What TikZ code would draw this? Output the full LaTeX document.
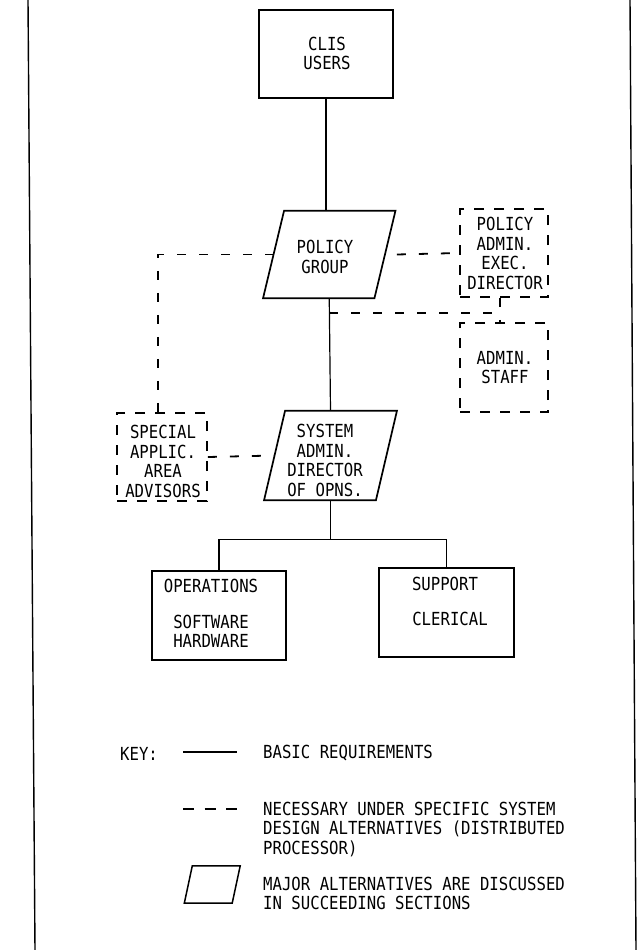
\documentclass[tikz,border=0pt]{standalone}
\usepackage{fontspec}
\newfontfamily\tw[FakeStretch=0.87]{DejaVu Sans Mono}
\begin{document}
\begin{tikzpicture}[x=1pt,y=-1pt,
  sbox/.style={draw, line width=1.7pt, inner sep=0pt},
  dbox/.style={sbox, line width=1.9pt, dash pattern=on 10pt off 10pt},
  pgcore/.style={rectangle, inner sep=0pt},
  pline/.style={line width=1.7pt, line join=miter},
  conn/.style={line width=1.2pt},
  dconn/.style={line width=1.8pt, dash pattern=on 9pt off 13pt},
  lbl/.style={font=\tw\fontsize{18}{19.5}\selectfont, align=center, inner sep=0pt}]
\useasboundingbox (0,0) rectangle (643,950);
% frame
\coordinate (fl1) at (28,0); \coordinate (fl2) at (35,950);
\coordinate (fr1) at (630,0); \coordinate (fr2) at (636,950);
\draw[line width=1.4pt] (fl1) -- (fl2);
\draw[line width=1.4pt] (fr1) -- (fr2);
% boxes
\node[sbox, minimum width=134, minimum height=88] (users) at (326,54) {};
\node[pgcore, minimum width=111, minimum height=87] (pg) at (329.25,254.5) {};
\draw[pline] ([xshift=10.5pt]pg.north west) -- ([xshift=10.5pt]pg.north east)
  -- ([xshift=-10.5pt]pg.south east) -- ([xshift=-10.5pt]pg.south west) -- cycle;
\node[dbox, minimum width=88, minimum height=88] (exec) at (504,253) {};
\node[dbox, minimum width=88, minimum height=89] (staff) at (504,367.5) {};
\node[dbox, minimum width=90, minimum height=88] (spec) at (162,457) {};
\node[pgcore, minimum width=111.5, minimum height=89] (sa) at (330.5,455.5) {};
\draw[pline] ([xshift=10.5pt]sa.north west) -- ([xshift=10.5pt]sa.north east)
  -- ([xshift=-10.5pt]sa.south east) -- ([xshift=-10.5pt]sa.south west) -- cycle;
\node[sbox, minimum width=134, minimum height=89] (ops) at (219,615.5) {};
\node[sbox, minimum width=135, minimum height=89] (sup) at (446.5,612.5) {};
% texts
\node[lbl] (tUsers) at (327,53.5) {CLIS\\USERS};
\node[lbl] (tPG) at (325,257) {POLICY\\GROUP};
\node[lbl] (tExec) at (505,253.5) {POLICY\\ADMIN.\\EXEC.\\DIRECTOR};
\node[lbl] (tStaff) at (505,367.5) {ADMIN.\\STAFF};
\node[lbl] (tSpec) at (163,461.5) {SPECIAL\\APPLIC.\\AREA\\ADVISORS};
\node[lbl] (tSA) at (325,460.5) {SYSTEM\\ADMIN.\\DIRECTOR\\OF OPNS.};
\node[lbl] (tOps1) at (211,586) {OPERATIONS};
\node[lbl] (tOps2) at (211,631.5) {SOFTWARE\\HARDWARE};
\node[lbl] (tSup1) at (445,584) {SUPPORT};
\node[lbl] (tSup2) at (450,619) {CLERICAL};
% solid connectors
\draw[conn] (users.south) -- (users.south |- pg.north);
\draw[conn] (pg.south) -- (sa.north);
\path (sa.south) ++(0,39) coordinate (bus);
\draw[conn] (sa.south) -- (bus);
\draw[conn] (ops.north) |- (bus) -| (sup.north);
% dashed connectors
\draw[dconn] ([xshift=12pt]pg.east) -- (exec.west);
\draw[dconn] (pg.west) -| ([xshift=-4pt]spec.north);
\draw[dconn] (spec.east) -- (sa.west);
\path (pg.south) ++(0,15) coordinate (tap);
\draw[dconn] (tap) -- ([xshift=-4pt]tap -| exec.south);
\draw[dconn] ([xshift=-4pt]exec.south) -- ([xshift=-4pt]staff.north);
% key
\node[lbl, anchor=west] (kKey) at (120,754) {KEY:};
\coordinate (k1a) at (183,752); \coordinate (k1b) at (237,752);
\draw[conn] (k1a) -- (k1b);
\node[lbl, anchor=west] (kT1) at (263,753) {BASIC REQUIREMENTS};
\coordinate (k2a) at (183,809); \coordinate (k2b) at (237,809);
\draw[line width=1.8pt, dash pattern=on 11pt off 10.5pt] (k2a) -- (k2b);
\node[lbl, anchor=west, align=left] (kT2) at (263,829) {NECESSARY UNDER SPECIFIC SYSTEM\\DESIGN ALTERNATIVES (DISTRIBUTED\\PROCESSOR)};
\node[pgcore, minimum width=47.5, minimum height=37] (kpg) at (212.25,884.5) {};
\draw[pline, line width=1.5pt] ([xshift=4pt]kpg.north west) -- ([xshift=4pt]kpg.north east)
  -- ([xshift=-4pt]kpg.south east) -- ([xshift=-4pt]kpg.south west) -- cycle;
\node[lbl, anchor=west, align=left] (kT3) at (263,893.5) {MAJOR ALTERNATIVES ARE DISCUSSED\\IN SUCCEEDING SECTIONS};
\end{tikzpicture}
\end{document}
